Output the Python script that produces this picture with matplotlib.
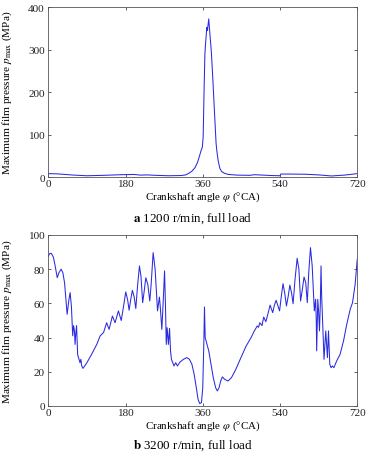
import numpy as np
import matplotlib
matplotlib.use("Agg")
import matplotlib.pyplot as plt

plt.rcParams["font.family"] = ["Liberation Serif", "DejaVu Serif"]
plt.rcParams["mathtext.fontset"] = "stix"

# ── data ─────────────────────────────────────────────────────────────────
# a) 1200 r/min, full load
angle_1200 = [0, 20, 40, 60, 90, 130, 170, 200, 215, 230, 250, 280, 310, 320,
              328, 335, 342, 348, 352, 356, 359, 361, 363, 365, 367, 369.5,
              371, 372, 374, 376, 378, 380, 383, 386, 389, 391, 393, 396, 400,
              404, 410, 420, 440, 470, 480, 500, 520, 540, 542, 560, 600, 630,
              660, 690, 720]
p_1200 = [8, 7.5, 6, 4.5, 3, 4, 5.5, 6, 4.5, 5, 4, 3, 3.5, 5,
          9, 14, 22, 35, 48, 62, 70, 95, 200, 290, 320, 352,
          345, 355, 372, 345, 320, 295, 240, 180, 120, 80, 60, 38, 20,
          13, 9, 6, 4.5, 4, 5.5, 4.5, 3.5, 3, 7, 7, 6.5, 5,
          2.5, 4.5, 8]

# b) 3200 r/min, full load
angle_3200 = [0, 3, 7, 12, 16, 21, 25, 30, 34, 38, 44, 48, 51, 54, 57, 59, 61,
              62.5, 64, 66, 68.5, 70, 72, 74, 76, 78, 81, 85, 90, 101, 113,
              121, 129, 136, 141.8, 149.5, 155.7, 163.5, 170, 174, 180.6, 185,
              188.4, 192, 196, 200, 204, 208, 212.5, 216, 220, 224, 227.3,
              232, 236.6, 240, 244.4, 249, 254.6, 259, 261, 264.7, 268, 271,
              273, 275, 277, 280, 282.6, 285, 287, 290, 293, 297, 301, 307,
              315, 323, 329, 334.7, 340, 345, 349, 353, 357, 360, 362.6, 364,
              365.7, 368.8, 374, 378, 384.5, 390, 394, 398, 401.8, 405.7, 411,
              419, 427, 437, 449, 461, 472.6, 480, 487, 490, 493, 498, 502,
              507, 512, 517, 523, 527, 531, 539, 543, 547, 551, 555, 559, 563,
              567, 570.5, 575, 580, 584, 588, 592, 596, 600, 603.6, 607, 611,
              615, 620, 621, 623, 624.5, 625.5, 627, 628, 630, 632, 634,
              635.6, 637, 642.6, 646.6, 650.5, 653, 656, 659, 662, 665.5, 672,
              680, 688, 695.6, 703.5, 709, 715, 720]
p_3200 = [87.5, 89, 89.3, 87, 82, 75, 78, 80, 78, 72, 53.6, 62, 66.3, 58, 41,
          47, 44, 36, 42, 47, 30, 28.7, 27, 25.3, 27.3, 23.4, 22, 23.5, 25.3,
          30.2, 36, 41, 43, 48.7, 44.8, 52.6, 48.7, 55.6, 50, 56, 66.7, 62,
          56, 62, 67.6, 64, 57, 70, 81.9, 76, 60.4, 68, 75, 71, 61.4, 72,
          89.7, 80, 55.6, 63.7, 58, 44.8, 62, 79, 60, 36, 45.8, 36, 45.4, 32,
          27.3, 25.3, 23.4, 25.3, 23.4, 25.7, 27.3, 28.3, 27.3, 24.4, 18.5,
          10.7, 3.9, 1.4, 2, 10.7, 38, 57.9, 40, 37, 32.2, 26.3, 16.6, 10.7,
          8.8, 10.7, 14.6, 17, 15.6, 14.6, 16.6, 21.4, 28.3, 35, 40, 43.8,
          46.8, 46, 48.7, 47, 52, 49.3, 54, 59, 54.6, 59, 61.8, 55.6, 64,
          71.5, 66, 58.5, 64, 70.7, 66, 59.8, 74, 86.4, 80, 61.4, 68, 75.4,
          72, 60.4, 78, 92.6, 82, 55.6, 58, 62.4, 50, 32.2, 50, 62.4, 55,
          43.9, 60, 81.9, 65, 27.3, 43.9, 28.3, 43.9, 24.4, 22.4, 23.4, 22.4,
          26.3, 30.2, 38, 47.8, 56.5, 60.4, 71, 85.8]

x_ticks = [0, 180, 360, 540, 720]
panels = [
    (angle_1200, p_1200, [0, 100, 200, 300, 400], r"$\mathbf{a}$ 1200 r/min, full load"),
    (angle_3200, p_3200, [0, 20, 40, 60, 80, 100], r"$\mathbf{b}$ 3200 r/min, full load"),
]

fig = plt.figure(figsize=(3.77, 4.56), dpi=100)
ax_boxes = [[0.128, 0.6096, 0.8196, 0.3728], [0.128, 0.1075, 0.8196, 0.375]]
caption_y = [1 - 219 / 456, 1 - 446 / 456]

for (xs, ys, yt, cap), box, cy in zip(panels, ax_boxes, caption_y):
    ax = fig.add_axes(box)
    ax.plot(xs, ys, color="#2a2ae0", linewidth=0.75)
    ax.set_xlim(0, 720)
    ax.set_ylim(yt[0], yt[-1])
    ax.set_xticks(x_ticks)
    ax.set_yticks(yt)
    ax.tick_params(direction="in", length=2.5, width=0.5, labelsize=8.1,
                   top=True, right=True, pad=1.5, colors="#222222")
    ax.tick_params(axis="y", pad=2.5)
    for spine in ax.spines.values():
        spine.set_linewidth(0.6)
        spine.set_color("#555555")
    ax.set_xlabel(r"Crankshaft angle $\varphi$ (°CA)", fontsize=7.9, labelpad=0)
    ax.xaxis.set_label_coords(0.5, -0.072)
    ax.set_ylabel(r"Maximum film pressure $p_{\mathrm{max}}$ (MPa)", fontsize=8.1)
    ax.yaxis.set_label_coords(-0.11, 0.5)
    fig.text(193 / 377, cy, cap, ha="center", va="center", fontsize=9.4)

fig.savefig("out.png", dpi=100)
